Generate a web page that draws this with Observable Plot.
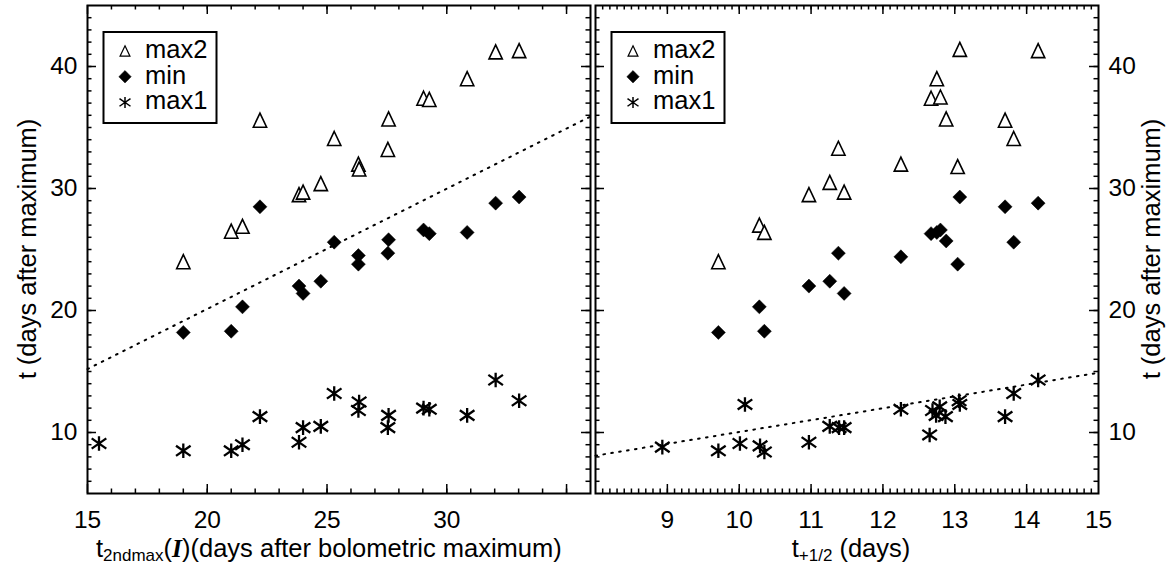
<!DOCTYPE html>
<html>
<head>
<meta charset="utf-8">
<script src="https://cdn.jsdelivr.net/npm/d3@7"></script>
<script src="https://cdn.jsdelivr.net/npm/@observablehq/plot@0.6"></script>
<style>
  html, body { margin: 0; padding: 0; background: white; }
  #wrap { position: relative; width: 1168px; height: 567px; background: white; overflow: hidden; }
  #wrap > svg { position: absolute; top: 0; }
</style>
</head>
<body>
<div id="wrap"></div>
<script>
// ---------------- data ----------------
// Left panel: x = t_2ndmax(I)
const leftMax2X = [19.0, 21.0, 21.47, 22.2, 23.83, 24.0, 24.74, 25.3, 26.31, 26.34, 27.57, 27.54, 29.03, 29.27, 30.85, 32.04, 33.02];
const leftMax2Y = [24.0, 26.5, 26.9, 35.6, 29.5, 29.7, 30.4, 34.1, 32.0, 31.6, 35.7, 33.2, 37.4, 37.3, 39.0, 41.2, 41.3];
const leftMinX  = [19.0, 21.0, 21.47, 22.2, 23.83, 24.0, 24.74, 25.3, 26.31, 26.31, 27.57, 27.54, 29.03, 29.27, 30.85, 32.04, 33.02];
const leftMinY  = [18.2, 18.3, 20.3, 28.5, 22.0, 21.4, 22.4, 25.6, 24.5, 23.8, 25.8, 24.7, 26.6, 26.3, 26.4, 28.8, 29.3];
const leftMax1X = [15.48, 19.0, 21.0, 21.47, 22.2, 23.83, 24.0, 24.74, 25.3, 26.34, 26.31, 27.57, 27.54, 29.03, 29.27, 30.85, 32.04, 33.02];
const leftMax1Y = [9.1, 8.5, 8.5, 9.0, 11.3, 9.2, 10.4, 10.5, 13.2, 12.5, 11.8, 11.4, 10.4, 12.0, 11.9, 11.4, 14.3, 12.6];
const leftFitX  = [15, 36];
const leftFitY  = [15.2, 35.9];

// Right panel: x = t_{+1/2}
const rightMax2X = [9.71, 10.28, 10.35, 10.97, 11.26, 11.46, 11.38, 12.25, 12.67, 12.80, 12.75, 12.88, 13.04, 13.07, 13.70, 13.82, 14.16];
const rightMax2Y = [24.0, 27.0, 26.4, 29.5, 30.5, 29.7, 33.3, 32.0, 37.4, 37.5, 39.0, 35.7, 31.8, 41.4, 35.6, 34.1, 41.3];
const rightMinX  = [9.71, 10.28, 10.35, 10.97, 11.26, 11.46, 11.38, 12.25, 12.67, 12.80, 12.75, 12.88, 13.04, 13.07, 13.70, 13.82, 14.16];
const rightMinY  = [18.2, 20.3, 18.3, 22.0, 22.4, 21.4, 24.7, 24.4, 26.3, 26.6, 26.4, 25.7, 23.8, 29.3, 28.5, 25.6, 28.8];
const rightMax1X = [8.93, 9.71, 10.01, 10.29, 10.35, 10.08, 10.97, 11.26, 11.39, 11.46, 12.25, 12.65, 12.69, 12.79, 12.74, 12.87, 13.06, 13.07, 13.70, 13.82, 14.16];
const rightMax1Y = [8.8, 8.5, 9.1, 8.9, 8.4, 12.3, 9.2, 10.5, 10.4, 10.4, 11.9, 9.8, 11.8, 12.1, 11.4, 11.3, 12.6, 12.3, 11.3, 13.2, 14.3];
const rightFitX  = [8, 15];
const rightFitY  = [8.1, 14.9];

// axes / ticks
const yDomain = [5, 45];
const yTickLabels = [10, 20, 30, 40];
const yMajorTicks = [10, 20, 30, 40];
const yMinorTicks = d3.range(6, 45);
const leftXDomain = [15, 36];
const leftXTickLabels = [15, 20, 25, 30];
const leftXMajorTicks = [15, 20, 25, 30, 35];
const leftXMinorTicks = d3.range(16, 36);
const rightXDomain = [8, 15];
const rightXTickLabels = [9, 10, 11, 12, 13, 14, 15];
const rightXMajorTicks = [9, 10, 11, 12, 13, 14];
const rightXMinorTicks = d3.range(81, 150).map(d => d / 10);

const legendLabels = ["max2", "min", "max1"];
const yTitle = "t (days after maximum)";

// ---------------- symbols ----------------
const triangleSym = { draw(ctx, size) { const r = Math.sqrt(size / Math.PI);
  ctx.moveTo(0, -r); ctx.lineTo(r * 0.95, r); ctx.lineTo(-r * 0.95, r); ctx.closePath(); } };
const diamondSym = { draw(ctx, size) { const r = Math.sqrt(size / Math.PI);
  ctx.moveTo(0, -r); ctx.lineTo(r, 0); ctx.lineTo(0, r); ctx.lineTo(-r, 0); ctx.closePath(); } };
const asteriskSym = { draw(ctx, size) { const r = Math.sqrt(size / Math.PI);
  ctx.moveTo(0, -r); ctx.lineTo(0, r);
  ctx.moveTo(-r, -r * 0.7); ctx.lineTo(r, r * 0.7);
  ctx.moveTo(-r, r * 0.7); ctx.lineTo(r, -r * 0.7); } };

const FONT = "'Liberation Sans', Arial, Helvetica, sans-serif";
const TITLE_SIZE = 25.5;
const H = 567, MT = 5, MB = 74;
const FH = H - MT - MB;   // frame height
const FW = 503;           // frame width

function zip(xs, ys) { return xs.map((x, i) => ({x, y: ys[i]})); }

function panel(o) {
  const tickStyle = {stroke: "black", strokeWidth: 1.5};
  return Plot.plot({
    width: o.width, height: H,
    marginLeft: o.mL, marginRight: o.mR, marginTop: MT, marginBottom: MB,
    style: {fontFamily: FONT, fontSize: "24.5px", color: "black", background: "transparent", overflow: "visible"},
    x: {domain: o.xDomain, ticks: o.xLabels, tickSize: 0, tickPadding: 17, label: null, tickFormat: d => String(d)},
    y: {domain: yDomain, ticks: yTickLabels, tickSize: 0, tickPadding: 10, label: null, axis: o.yAxis, tickFormat: d => String(d)},
    marks: [
      // ticks (inward, all four sides)
      Plot.ruleX(o.xMinor, {x: d => d, insetTop: FH - 4.5, ...tickStyle}),
      Plot.ruleX(o.xMinor, {x: d => d, insetBottom: FH - 4.5, ...tickStyle}),
      Plot.ruleX(o.xMajor, {x: d => d, insetTop: FH - 9, ...tickStyle}),
      Plot.ruleX(o.xMajor, {x: d => d, insetBottom: FH - 9, ...tickStyle}),
      Plot.ruleY(yMinorTicks, {y: d => d, insetRight: FW - 4.5, ...tickStyle}),
      Plot.ruleY(yMinorTicks, {y: d => d, insetLeft: FW - 4.5, ...tickStyle}),
      Plot.ruleY(yMajorTicks, {y: d => d, insetRight: FW - 9, ...tickStyle}),
      Plot.ruleY(yMajorTicks, {y: d => d, insetLeft: FW - 9, ...tickStyle}),
      Plot.line(zip(o.fitX, o.fitY), {x: "x", y: "y", stroke: "black", strokeWidth: 2, strokeDasharray: "1.6,6.4"}),
      Plot.dot(zip(o.max2X, o.max2Y), {x: "x", y: "y", symbol: triangleSym, r: 7, fill: "white", stroke: "black", strokeWidth: 1.6}),
      Plot.dot(zip(o.minX, o.minY), {x: "x", y: "y", symbol: diamondSym, r: 7, fill: "black", stroke: "black", strokeWidth: 0.5}),
      Plot.dot(zip(o.max1X, o.max1Y), {x: "x", y: "y", symbol: asteriskSym, r: 7.3, fill: "none", stroke: "black", strokeWidth: 2.3}),
      Plot.frame({stroke: "black", strokeWidth: 2})
    ]
  });
}

const wrap = document.getElementById("wrap");

const left = panel({
  width: 592, mL: 87, mR: 2, yAxis: "left",
  xDomain: leftXDomain, xLabels: leftXTickLabels, xMajor: leftXMajorTicks, xMinor: leftXMinorTicks,
  max2X: leftMax2X, max2Y: leftMax2Y, minX: leftMinX, minY: leftMinY, max1X: leftMax1X, max1Y: leftMax1Y,
  fitX: leftFitX, fitY: leftFitY
});
left.style.left = "0px";
wrap.appendChild(left);

const right = panel({
  width: 576, mL: 3, mR: 70, yAxis: "right",
  xDomain: rightXDomain, xLabels: rightXTickLabels, xMajor: rightXMajorTicks, xMinor: rightXMinorTicks,
  max2X: rightMax2X, max2Y: rightMax2Y, minX: rightMinX, minY: rightMinY, max1X: rightMax1X, max1Y: rightMax1Y,
  fitX: rightFitX, fitY: rightFitY
});
right.style.left = "592px";
wrap.appendChild(right);

// ---------------- overlay: titles & legends ----------------
const ov = d3.create("svg").attr("width", 1168).attr("height", 567)
  .style("left", "0px").style("pointer-events", "none")
  .attr("font-family", FONT).attr("font-size", TITLE_SIZE).attr("fill", "black");

// left x title
const lt = ov.append("text").attr("x", 96).attr("y", 557);
lt.append("tspan").text("t");
lt.append("tspan").attr("font-size", 17).attr("dy", 4).text("2ndmax");
lt.append("tspan").attr("dy", -4).text("(");
lt.append("tspan").attr("font-family", "'Liberation Serif', 'DejaVu Serif', serif").attr("font-weight", "bold").attr("font-style", "italic").text("I");
lt.append("tspan").text(")(days after bolometric maximum)");

// right x title
const rt = ov.append("text").attr("x", 851).attr("y", 557).attr("text-anchor", "middle");
rt.append("tspan").text("t");
rt.append("tspan").attr("font-size", 17).attr("dy", 4).text("+1/2");
rt.append("tspan").attr("dy", -4).text(" (days)");

// y titles
ov.append("text").attr("transform", "translate(36,249) rotate(-90)").attr("text-anchor", "middle").text(yTitle);
ov.append("text").attr("transform", "translate(1160,249) rotate(-90)").attr("text-anchor", "middle").text(yTitle);

// legends
const legSyms = [
  {sym: triangleSym, size: Math.PI * 5.2 * 5.2, fill: "white", stroke: "black", sw: 1.2},
  {sym: diamondSym, size: Math.PI * 6.2 * 6.2, fill: "black", stroke: "black", sw: 0.5},
  {sym: asteriskSym, size: Math.PI * 5.5 * 5.5, fill: "none", stroke: "black", sw: 1.5}
];
for (const dx of [0, 508]) {
  const g = ov.append("g").attr("transform", `translate(${dx},0)`);
  g.append("rect").attr("x", 103.5).attr("y", 32).attr("width", 113).attr("height", 91)
    .attr("fill", "white").attr("stroke", "black").attr("stroke-width", 2);
  legendLabels.forEach((lab, i) => {
    const base = 58 + i * 25.7;
    const s = legSyms[i];
    g.append("path").attr("transform", `translate(125,${base - 7})`)
      .attr("d", d3.symbol(s.sym, s.size)())
      .attr("fill", s.fill).attr("stroke", s.stroke).attr("stroke-width", s.sw);
    g.append("text").attr("x", 145).attr("y", base).text(lab);
  });
}
wrap.appendChild(ov.node());
</script>
</body>
</html>
